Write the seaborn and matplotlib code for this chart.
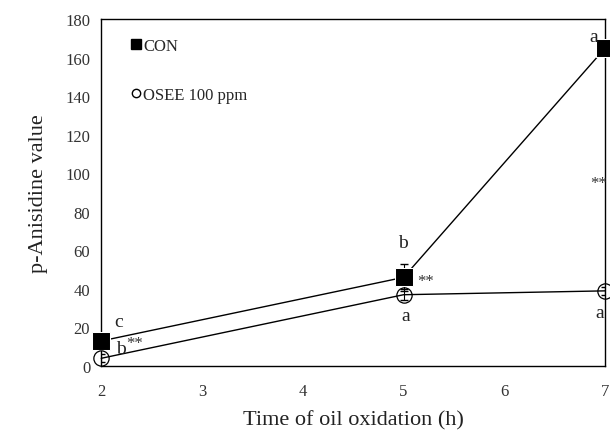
import matplotlib
matplotlib.use("Agg")
import matplotlib.pyplot as plt
import seaborn as sns
import pandas as pd
from matplotlib.lines import Line2D

times = [2, 5, 7]
con_values = [13, 46, 165]
con_err = [3, 7, 2]
osee_values = [4, 37, 39]
osee_err = [2, 3, 2]
series_names = ["CON", "OSEE 100 ppm"]
x_ticks = [2, 3, 4, 5, 6, 7]
y_ticks = [0, 20, 40, 60, 80, 100, 120, 140, 160, 180]

df = pd.DataFrame({
    "time": times * 2,
    "value": con_values + osee_values,
    "series": [series_names[0]] * 3 + [series_names[1]] * 3,
})

sns.set_style("white")
plt.rcParams["font.family"] = ["Liberation Serif", "DejaVu Serif"]

fig = plt.figure(figsize=(6.10, 4.39), dpi=100)
ax = fig.add_axes([0.166, 0.164, 0.826, 0.79])

sns.lineplot(data=df, x="time", y="value", hue="series", style="series",
             markers={"CON": "s", "OSEE 100 ppm": "o"}, dashes=False,
             palette={"CON": "black", "OSEE 100 ppm": "black"},
             linewidth=1.0, markersize=13, ax=ax, legend=False, zorder=3)
lines = ax.get_lines()
lines[0].set_markerfacecolor("black")
lines[1].set_markerfacecolor("none")
lines[1].set_markeredgecolor("black")
lines[1].set_markersize(11)
lines[1].set_markeredgewidth(0.9)
for ln in lines:
    ln.set_clip_on(False)

ax.errorbar(times, con_values, yerr=con_err, fmt="none", ecolor="black",
            elinewidth=0.8, capsize=3, zorder=2)
ax.errorbar(times, osee_values, yerr=osee_err, fmt="none", ecolor="black",
            elinewidth=0.8, capsize=3, zorder=2)

ax.set_xlim(2, 7)
ax.set_ylim(0, 180)
ax.set_xticks(x_ticks)
ax.set_yticks(y_ticks)
ax.tick_params(direction="in", length=4, width=0.8, labelsize=12,
               labelcolor="#333333", pad=8)
ax.tick_params(axis="x", pad=12)
for s in ax.spines.values():
    s.set_color("black")
    s.set_linewidth(1.0)

ax.set_xlabel("Time of oil oxidation (h)", fontsize=16, color="#222222", labelpad=8)
ax.set_ylabel("p-Anisidine value", fontsize=16, color="#222222", labelpad=12)

handles = [
    Line2D([], [], marker="s", color="black", linestyle="none", markersize=7),
    Line2D([], [], marker="o", markerfacecolor="none", markeredgecolor="black",
           linestyle="none", markersize=6),
]
ax.legend(handles, series_names, loc="upper left", bbox_to_anchor=(0.03, 0.99),
          frameon=False, labelspacing=2.0, handlelength=0.5, handletextpad=0.2,
          prop={"family": "Liberation Serif", "size": 12})

txt = dict(fontsize=14, color="#222222", ha="center", va="center")
star = dict(fontsize=12, color="#333333", ha="center", va="center")
ax.text(2.17, 23, "c", **txt)
ax.text(2.2, 9, "b", **txt)
ax.text(2.33, 12, "**", **star)
ax.text(4.99, 64, "b", **txt)
ax.text(5.22, 44, "**", **star)
ax.text(5.02, 26, "a", **txt)
ax.text(6.89, 171, "a", **txt)
ax.text(6.93, 95, "**", **star)
ax.text(6.95, 28, "a", **txt)

fig.savefig("out.png", dpi=100)
